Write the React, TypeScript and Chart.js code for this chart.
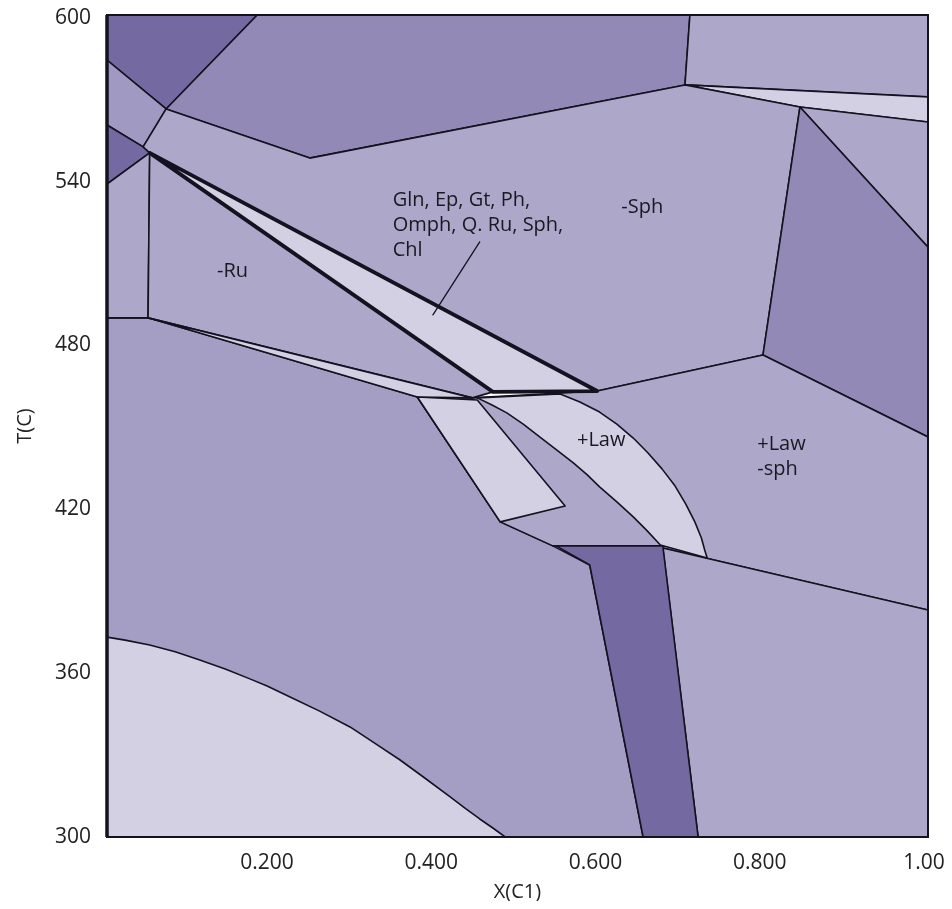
import React, { useEffect, useRef } from "react";
import { Chart, registerables } from "chart.js";

Chart.register(...registerables);

// ---------- axes ----------
const xTickValues = [0.2, 0.4, 0.6, 0.8, 1.0];
const xTickLabels = ["0.200", "0.400", "0.600", "0.800", "1.00"];
const yTickValues = [300, 360, 420, 480, 540, 600];
const yTickLabels = ["300", "360", "420", "480", "540", "600"];

// ---------- phase fields (X(C1), T(C)) ----------
const lowerLeftX = [0.005, 0.055, 0.383, 0.484, 0.548, 0.593, 0.658, 0.005];
const lowerLeftY = [490.1, 490.1, 461.1, 415.4, 406.6, 399.6, 300, 300];

const lowArcX = [0.005, 0.027, 0.057, 0.088, 0.118, 0.149, 0.179, 0.2, 0.228, 0.264, 0.301, 0.331, 0.362, 0.392, 0.423, 0.441, 0.459, 0.475, 0.49, 0.005];
const lowArcY = [373.2, 372.1, 370.3, 367.8, 364.8, 361.5, 357.9, 355.3, 351.3, 346.1, 340.3, 334.4, 328.2, 321.6, 314.7, 310.6, 306.6, 303.3, 300, 300];

const topLeftDarkX = [0.005, 0.188, 0.077, 0.005];
const topLeftDarkY = [601, 601, 566.6, 584.5];

const leftUpperX = [0.005, 0.077, 0.049, 0.005];
const leftUpperY = [584.5, 566.6, 552.7, 560.7];

const leftDarkX = [0.005, 0.049, 0.057, 0.005];
const leftDarkY = [560.7, 552.7, 550.5, 539.1];

const leftStripX = [0.005, 0.057, 0.055, 0.005];
const leftStripY = [539.1, 550.5, 490.1, 490.1];

const topBandX = [0.188, 0.715, 0.709, 0.252, 0.077];
const topBandY = [601, 601, 575.4, 548.6, 566.6];

const topRightX = [0.715, 1.005, 1.005, 0.709];
const topRightY = [601, 601, 571.0, 575.4];

const topRightSliverX = [0.709, 1.005, 1.005, 0.849];
const topRightSliverY = [575.4, 571.0, 561.8, 567.3];

const sphFieldX = [0.049, 0.077, 0.252, 0.709, 0.849, 0.804, 0.602, 0.057];
const sphFieldY = [552.7, 566.6, 548.6, 575.4, 567.3, 476.5, 463.3, 550.5];

const rightLightX = [0.849, 1.005, 1.005];
const rightLightY = [567.3, 561.8, 516.0];

const rightMedX = [0.849, 1.005, 1.005, 0.804];
const rightMedY = [567.3, 516.0, 446.5, 476.5];

const lawSphFieldX = [0.45, 0.602, 0.804, 1.005, 1.005, 0.682, 0.548, 0.484, 0.383];
const lawSphFieldY = [460.8, 463.3, 476.5, 446.5, 383.1, 405.8, 406.6, 415.4, 461.1];

const bottomRightX = [0.682, 1.005, 1.005, 0.725];
const bottomRightY = [405.8, 383.1, 300, 300];

const ruFieldX = [0.057, 0.055, 0.45, 0.475];
const ruFieldY = [550.5, 490.1, 460.8, 463.0];

const sliverX = [0.055, 0.45, 0.383];
const sliverY = [490.1, 460.8, 461.1];

const quadX = [0.383, 0.456, 0.563, 0.484];
const quadY = [461.1, 460.0, 421.2, 415.4];

// +Law band: upper arc (left to right) then lower arc (right to left)
const lawBandX = [
  0.456, 0.557, 0.581, 0.605, 0.626, 0.646, 0.664, 0.681, 0.697, 0.71, 0.721, 0.729, 0.733, 0.736,
  0.679, 0.663, 0.646, 0.626, 0.605, 0.59, 0.573, 0.553, 0.532, 0.512, 0.492, 0.474,
];
const lawBandY = [
  460.8, 462.2, 459.3, 455.6, 451.2, 446.1, 440.6, 434.8, 428.5, 421.9, 415.4, 409.5, 405.1, 402.2,
  406.9, 412.1, 417.2, 422.7, 428.2, 432.6, 437.0, 441.7, 446.5, 451.2, 455.3, 458.2,
];

const darkStripX = [0.552, 0.682, 0.725, 0.658, 0.593];
const darkStripY = [406.6, 406.6, 300, 300, 399.6];

const wedgeX = [0.057, 0.475, 0.602];
const wedgeY = [550.5, 463.0, 463.3];

const leaderX = [0.459, 0.402];
const leaderY = [517.9, 491.2];

// ---------- labels ----------
const labelTexts = ["Gln, Ep, Gt, Ph,", "Omph, Q. Ru, Sph,", "Chl", "-Sph", "-Ru", "+Law", "+Law", "-sph"];
const labelX = [0.353, 0.353, 0.353, 0.657, 0.158, 0.607, 0.797, 0.797];
const labelY = [531.1, 521.9, 512.8, 528.5, 505.1, 443.2, 441.7, 432.6];
const labelAlign = ["left", "left", "left", "center", "center", "center", "left", "left"];

// ---------- styles ----------
const DARK = "#7569a1";
const MED = "#9289b6";
const MED2 = "#a09ac2";
const LL = "#a49dc4";
const LIGHT = "#ada7ca";
const LIGHTEST = "#d3d0e4";
const LINE = "#15121f";
const FONT = "'Open Sans', 'Noto Sans', sans-serif";

type Region = { xs: number[]; ys: number[]; fill: string | null; width: number };

// bottom-most first
const regions: Region[] = [
  { xs: lowerLeftX, ys: lowerLeftY, fill: LL, width: 1.6 },
  { xs: lowArcX, ys: lowArcY, fill: LIGHTEST, width: 1.6 },
  { xs: topLeftDarkX, ys: topLeftDarkY, fill: DARK, width: 1.6 },
  { xs: leftUpperX, ys: leftUpperY, fill: MED2, width: 1.6 },
  { xs: leftDarkX, ys: leftDarkY, fill: DARK, width: 1.6 },
  { xs: leftStripX, ys: leftStripY, fill: LIGHT, width: 1.6 },
  { xs: topBandX, ys: topBandY, fill: MED, width: 1.6 },
  { xs: topRightX, ys: topRightY, fill: LIGHT, width: 1.6 },
  { xs: topRightSliverX, ys: topRightSliverY, fill: LIGHTEST, width: 1.8 },
  { xs: sphFieldX, ys: sphFieldY, fill: LIGHT, width: 1.6 },
  { xs: rightLightX, ys: rightLightY, fill: LIGHT, width: 1.6 },
  { xs: rightMedX, ys: rightMedY, fill: MED, width: 1.6 },
  { xs: lawSphFieldX, ys: lawSphFieldY, fill: LIGHT, width: 1.6 },
  { xs: bottomRightX, ys: bottomRightY, fill: LIGHT, width: 1.6 },
  { xs: ruFieldX, ys: ruFieldY, fill: LIGHT, width: 1.6 },
  { xs: sliverX, ys: sliverY, fill: LIGHTEST, width: 1.6 },
  { xs: quadX, ys: quadY, fill: LIGHTEST, width: 1.6 },
  { xs: lawBandX, ys: lawBandY, fill: LIGHTEST, width: 1.6 },
  { xs: darkStripX, ys: darkStripY, fill: DARK, width: 1.6 },
  { xs: wedgeX, ys: wedgeY, fill: LIGHTEST, width: 3.8 },
  { xs: leaderX, ys: leaderY, fill: null, width: 1.3 },
];

const framePlugin = {
  id: "frameAndLabels",
  afterDatasetsDraw(chart: any) {
    const { ctx, chartArea: a, scales } = chart;
    const sx = scales.x;
    const sy = scales.y;
    ctx.save();
    ctx.strokeStyle = LINE;
    ctx.lineWidth = 2;
    ctx.strokeRect(a.left, a.top, a.right - a.left, a.bottom - a.top);
    ctx.lineWidth = 3.5;
    ctx.beginPath();
    ctx.moveTo(a.left, a.top);
    ctx.lineTo(a.left, a.bottom);
    ctx.stroke();
    ctx.fillStyle = "#1b1822";
    ctx.font = `20px ${FONT}`;
    ctx.textBaseline = "alphabetic";
    labelTexts.forEach((t, i) => {
      ctx.textAlign = labelAlign[i];
      ctx.fillText(t, sx.getPixelForValue(labelX[i]), sy.getPixelForValue(labelY[i]));
    });
    ctx.restore();
  },
};

function zeroPad(s: any) {
  s.paddingLeft = 0;
  s.paddingRight = 0;
  s.paddingTop = 0;
  s.paddingBottom = 0;
}

export default function App() {
  const ref = useRef<HTMLCanvasElement | null>(null);

  useEffect(() => {
    if (!ref.current) return;
    const datasets = regions
      .slice()
      .reverse()
      .map((r) => {
        const pts = r.xs.map((x, i) => ({ x, y: r.ys[i] }));
        if (r.fill) pts.push({ x: r.xs[0], y: r.ys[0] });
        return {
          data: pts,
          borderColor: LINE,
          borderWidth: r.width,
          backgroundColor: r.fill || "rgba(0,0,0,0)",
          fill: r.fill ? "shape" : false,
          pointRadius: 0,
          pointHoverRadius: 0,
          tension: 0,
          borderJoinStyle: "round" as const,
          borderCapStyle: "round" as const,
        };
      });

    const chart = new Chart(ref.current, {
      type: "line",
      data: { datasets: datasets as any },
      options: {
        animation: false,
        responsive: false,
        events: [],
        layout: { padding: { left: 0, top: 7, right: 16, bottom: 0 } },
        plugins: { legend: { display: false }, tooltip: { enabled: false } },
        scales: {
          x: {
            type: "linear",
            min: 0.005,
            max: 1.005,
            grid: { display: false, drawTicks: false },
            border: { display: false },
            afterBuildTicks: (s: any) => {
              s.ticks = xTickValues.map((v) => ({ value: v }));
            },
            afterFit: (s: any) => {
              s.height = 64;
              zeroPad(s);
            },
            ticks: {
              autoSkip: false,
              maxRotation: 0,
              padding: 13,
              color: "#222",
              font: { family: FONT, size: 21 },
              callback: (_v: any, i: number) => xTickLabels[i],
            },
            title: {
              display: true,
              text: "X(C1)",
              color: "#222",
              font: { family: FONT, size: 20, lineHeight: 0.9 },
              padding: { top: 0, bottom: 0 },
            },
          },
          y: {
            type: "linear",
            min: 300,
            max: 601,
            grid: { display: false, drawTicks: false },
            border: { display: false },
            afterBuildTicks: (s: any) => {
              s.ticks = yTickValues.map((v) => ({ value: v }));
            },
            afterFit: (s: any) => {
              s.width = 99;
              zeroPad(s);
            },
            ticks: {
              autoSkip: false,
              padding: 16,
              color: "#222",
              font: { family: FONT, size: 21 },
              callback: (_v: any, i: number) => yTickLabels[i],
            },
            title: {
              display: true,
              text: "T(C)",
              color: "#222",
              font: { family: FONT, size: 20, lineHeight: 1 },
              padding: { top: 7, bottom: 0 },
            },
          },
        },
      },
      plugins: [framePlugin],
    });
    return () => chart.destroy();
  }, []);

  return (
    <div style={{ width: 936, height: 893 }}>
      <canvas ref={ref} width={936} height={893} style={{ display: "block" }} />
    </div>
  );
}
